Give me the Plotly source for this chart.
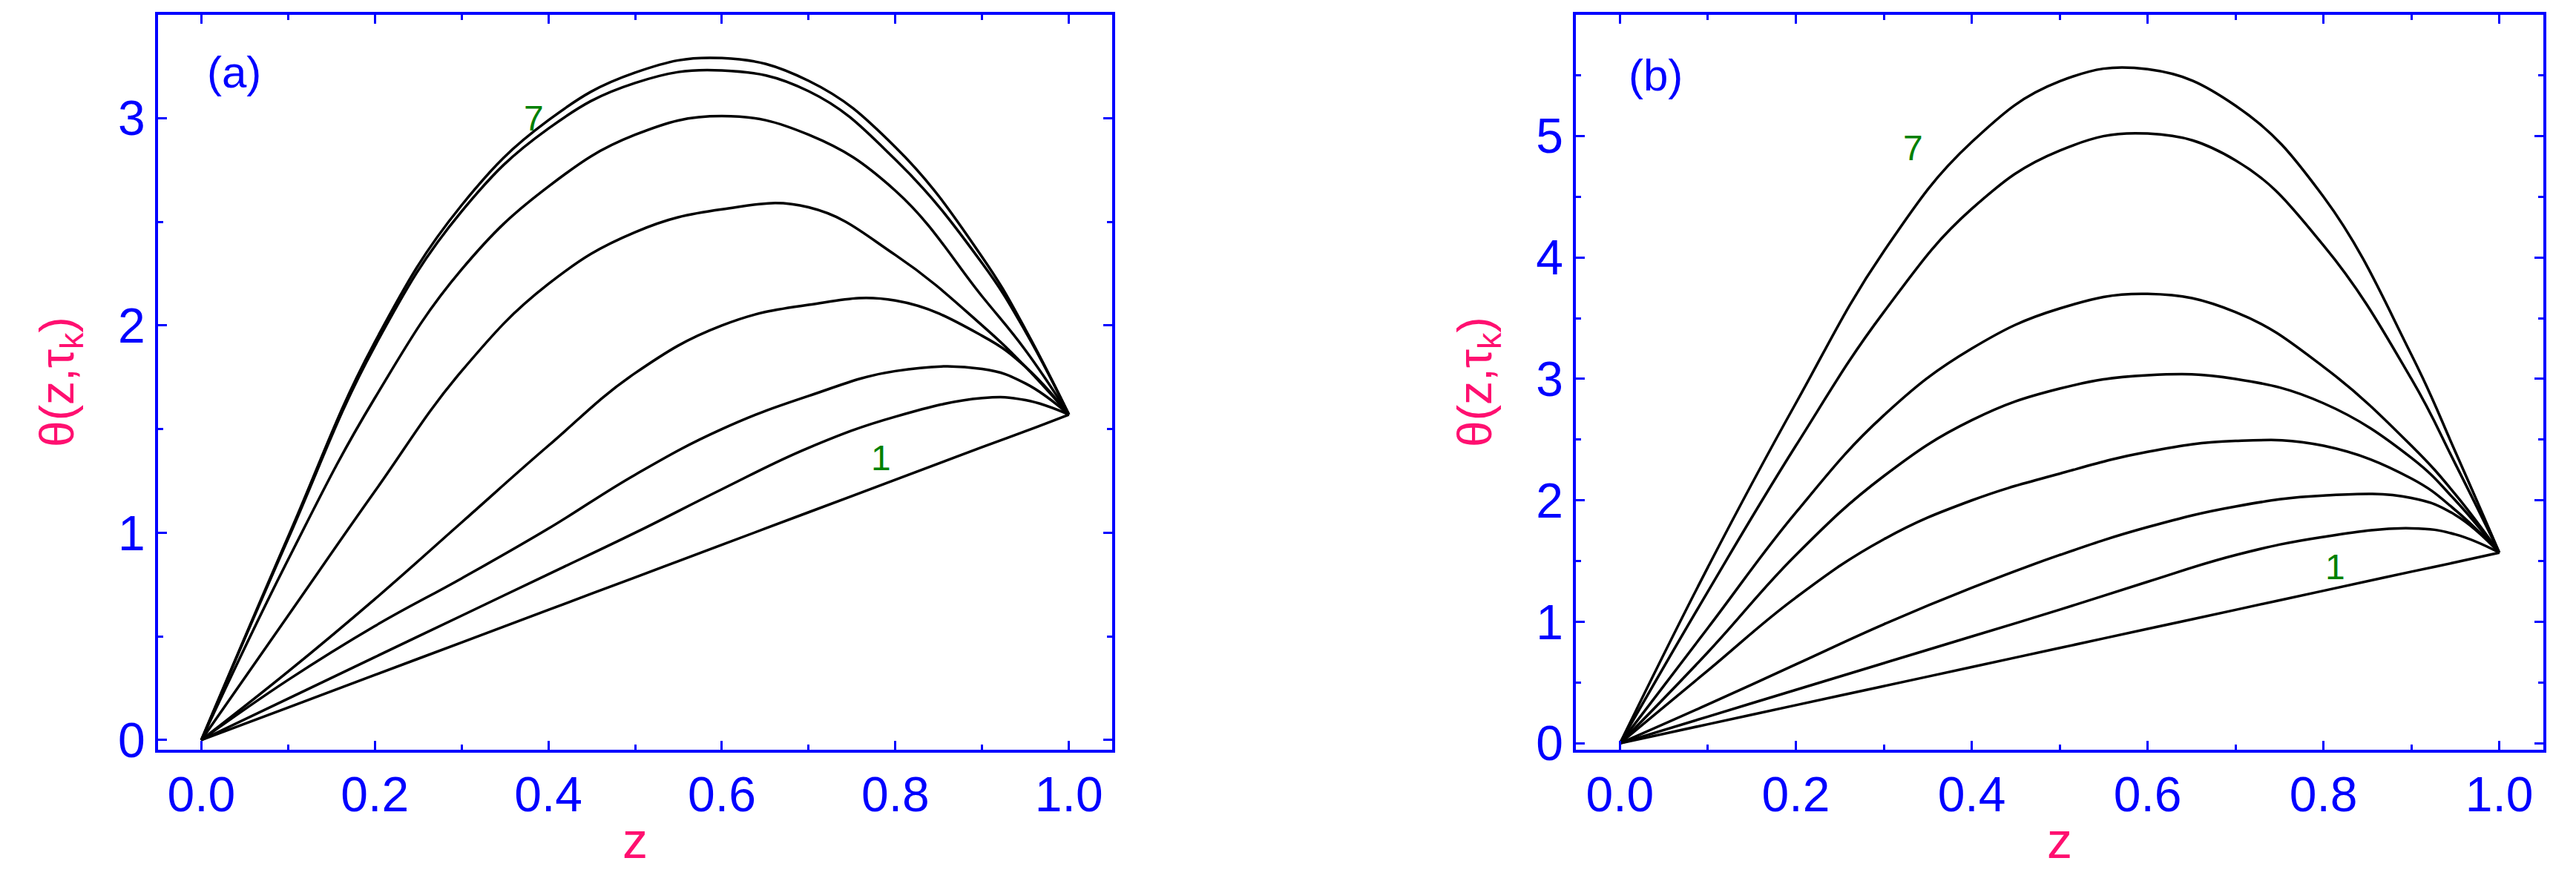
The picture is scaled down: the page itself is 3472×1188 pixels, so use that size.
import plotly.graph_objects as go
from plotly.subplots import make_subplots

z = [0, 0.1, 0.2, 0.3, 0.4, 0.5, 0.6, 0.7, 0.8, 0.9, 0.95, 1.0]

a1 = [0, .157, .314, .471, .628, .785, .942, 1.099, 1.256, 1.413, 1.49, 1.57]
a2 = [0, .20, .40, .60, .80, 1.0, 1.21, 1.41, 1.56, 1.65, 1.64, 1.57]
a3 = [0, .29, .55, .78, 1.02, 1.28, 1.50, 1.66, 1.78, 1.79, 1.72, 1.57]
a4 = [0, .33, .68, 1.05, 1.42, 1.77, 2.0, 2.10, 2.12, 1.95, 1.80, 1.57]
a5 = [0, .60, 1.20, 1.78, 2.20, 2.45, 2.56, 2.57, 2.34, 2.0, 1.80, 1.57]
a6 = [0, .87, 1.65, 2.27, 2.67, 2.92, 3.01, 2.92, 2.65, 2.14, 1.88, 1.57]
a7 = [0, .97, 1.90, 2.55, 2.95, 3.17, 3.23, 3.13, 2.80, 2.30, 1.97, 1.57]
a8 = [0, .98, 1.92, 2.58, 2.99, 3.22, 3.29, 3.18, 2.86, 2.33, 1.98, 1.57]

b1 = [0, .157, .314, .471, .628, .785, .942, 1.099, 1.256, 1.413, 1.49, 1.57]
b2 = [0, .22, .44, .66, .88, 1.10, 1.33, 1.55, 1.70, 1.77, 1.72, 1.57]
b3 = [0, .32, .65, .98, 1.28, 1.55, 1.78, 1.95, 2.04, 2.02, 1.88, 1.57]
b4 = [0, .60, 1.20, 1.68, 2.00, 2.22, 2.40, 2.49, 2.45, 2.18, 1.92, 1.57]
b5 = [0, .75, 1.55, 2.20, 2.66, 2.92, 3.03, 3.00, 2.80, 2.35, 2.0, 1.57]
b6 = [0, .95, 1.90, 2.70, 3.25, 3.58, 3.70, 3.55, 3.10, 2.45, 2.05, 1.57]
b7 = [0, 1.25, 2.45, 3.55, 4.40, 4.88, 5.02, 4.80, 4.10, 3.00, 2.30, 1.57]
b8 = [0, 1.45, 2.80, 4.05, 4.95, 5.45, 5.55, 5.25, 4.50, 3.20, 2.40, 1.57]

fig = make_subplots(rows=1, cols=2)
for s in [a1, a2, a3, a4, a5, a6, a7, a8]:
    fig.add_trace(go.Scatter(x=z, y=s, mode="lines", line=dict(color="black", width=3.5, shape="spline", smoothing=1.2),
                             showlegend=False), row=1, col=1)
for s in [b1, b2, b3, b4, b5, b6, b7, b8]:
    fig.add_trace(go.Scatter(x=z, y=s, mode="lines", line=dict(color="black", width=3.5, shape="spline", smoothing=1.2),
                             showlegend=False), row=1, col=2)

blue = "#0000ff"
pink = "#ff1070"
axcommon = dict(showline=True, linecolor=blue, linewidth=4, mirror="ticks", ticks="inside",
                tickcolor=blue, tickwidth=3, ticklen=12, showgrid=False, zeroline=False,
                tickfont=dict(family="Liberation Sans", size=66, color=blue))
fig.update_xaxes(**axcommon, range=[-0.05, 1.05], tickvals=[0, .2, .4, .6, .8, 1.0],
                 ticktext=["0.0", "0.2", "0.4", "0.6", "0.8", "1.0"],
                 minor=dict(dtick=0.1, ticks="inside", ticklen=7, tickcolor=blue, tickwidth=3),
                 title=dict(text="z", font=dict(family="Liberation Sans", size=68, color=pink), standoff=4))
fig.update_xaxes(domain=[0.059, 0.4295], row=1, col=1)
fig.update_xaxes(domain=[0.6095, 0.985], row=1, col=2)
fig.update_yaxes(**axcommon, minor=dict(dtick=0.5, ticks="inside", ticklen=7, tickcolor=blue, tickwidth=3),
                 title=dict(text="θ(z,τ<sub>k</sub>)", font=dict(family="Liberation Sans", size=64, color=pink), standoff=40))
fig.update_yaxes(domain=[0.135, 0.99])
fig.update_yaxes(range=[-0.045, 3.5], tickvals=[0, 1, 2, 3], row=1, col=1)
fig.update_yaxes(range=[-0.05, 6.0], tickvals=[0, 1, 2, 3, 4, 5, 6], row=1, col=2)

ann = [("x", "y", 0.005, 3.22, "(a)", blue, 60), ("x", "y", 0.37, 3.0, "7", "green", 48),
       ("x", "y", 0.77, 1.36, "1", "green", 48),
       ("x2", "y2", 0.008, 5.5, "(b)", blue, 60), ("x2", "y2", 0.32, 4.9, "7", "green", 48),
       ("x2", "y2", 0.80, 1.45, "1", "green", 48)]
for xr, yr, xv, yv, t, c, sz in ann:
    fig.add_annotation(xref=xr, yref=yr, x=xv, y=yv, text=t, showarrow=False, xanchor="left",
                       font=dict(family="Liberation Sans", size=sz, color=c))

fig.update_layout(width=3472, height=1188, margin=dict(l=0, r=0, t=0, b=0),
                  plot_bgcolor="white", paper_bgcolor="white")
fig.write_html("out.html")
